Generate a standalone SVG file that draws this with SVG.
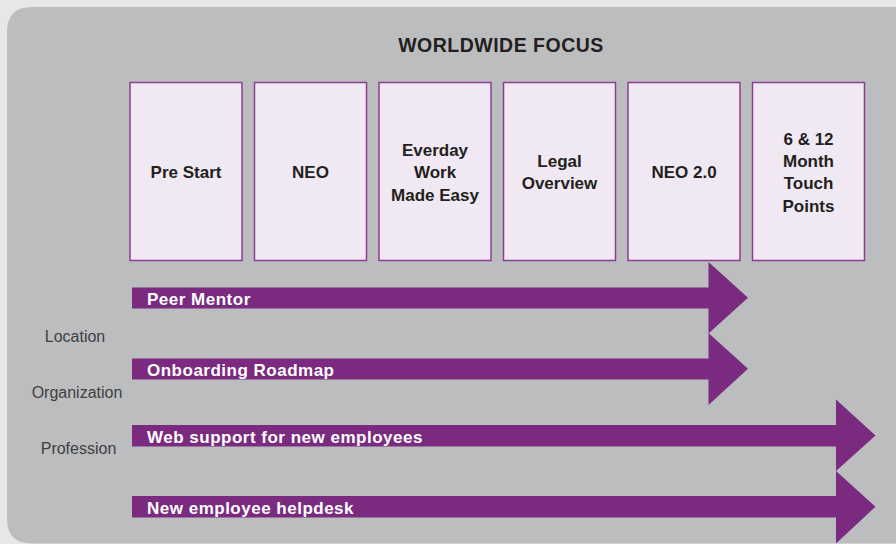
<svg xmlns="http://www.w3.org/2000/svg" width="896" height="544" viewBox="0 0 896 544">
<style>
.box{fill:#f0e8f2;stroke:#8e3d96;stroke-width:1.5}
.bt{font-family:"Liberation Sans",Arial,sans-serif;font-weight:bold;font-size:17px;fill:#231f20;text-anchor:middle}
.arr{fill:#7a2b80}
.at{font-family:"Liberation Sans",Arial,sans-serif;font-weight:bold;font-size:17px;fill:#ffffff;letter-spacing:0.5px}
.side{font-family:"Liberation Sans",Arial,sans-serif;font-size:16px;fill:#414042;text-anchor:middle}
</style>
<rect x="0" y="0" width="896" height="544" fill="#e6e7e8"/>
<path d="M32 7 H900 V543.5 H32 Q7 543.5 7 518.5 V32 Q7 7 32 7 Z" fill="#bcbdbf"/>
<text x="501" y="52" font-family="Liberation Sans,Arial,sans-serif" font-weight="bold" font-size="19.5" fill="#231f20" text-anchor="middle" letter-spacing="0.5">WORLDWIDE FOCUS</text>
<g id="node-prestart"><rect class="box" x="130" y="82.5" width="112" height="178"/><text class="bt" x="186" y="178">Pre Start</text></g>
<g id="node-neo"><rect class="box" x="254.5" y="82.5" width="112" height="178"/><text class="bt" x="310.5" y="178">NEO</text></g>
<g id="node-everyday"><rect class="box" x="379" y="82.5" width="112" height="178"/><text class="bt" x="435" y="155.5">Everday</text><text class="bt" x="435" y="178">Work</text><text class="bt" x="435" y="201">Made Easy</text></g>
<g id="node-legal"><rect class="box" x="503.5" y="82.5" width="112" height="178"/><text class="bt" x="559.5" y="167">Legal</text><text class="bt" x="559.5" y="189">Overview</text></g>
<g id="node-neo2"><rect class="box" x="628" y="82.5" width="112" height="178"/><text class="bt" x="684" y="178">NEO 2.0</text></g>
<g id="node-touch"><rect class="box" x="752.5" y="82.5" width="112" height="178"/><text class="bt" x="808.5" y="144.5">6 &amp; 12</text><text class="bt" x="808.5" y="167">Month</text><text class="bt" x="808.5" y="189">Touch</text><text class="bt" x="808.5" y="212">Points</text></g>
<g id="side-labels">
<text class="side" x="75" y="342">Location</text>
<text class="side" x="77" y="398">Organization</text>
<text class="side" x="78.5" y="454">Profession</text>
</g>
<g id="connectors">
<g id="arrow-peer"><path class="arr" d="M132 287.5 H708.5 V262 L748 297.8 L708.5 333.5 V308.5 H132 Z"/><text class="at" x="147" y="305">Peer Mentor</text></g>
<g id="arrow-roadmap"><path class="arr" d="M132 358.5 H708.5 V333 L748 368.8 L708.5 405 V379.5 H132 Z"/><text class="at" x="147" y="376">Onboarding Roadmap</text></g>
<g id="arrow-web"><path class="arr" d="M132 425 H836 V399.5 L875.5 435.5 L836 471 V446.5 H132 Z"/><text class="at" x="147" y="442.5">Web support for new employees</text></g>
<g id="arrow-help"><path class="arr" d="M132 496 H836 V471 L875.5 506.7 L836 543.5 V517.5 H132 Z"/><text class="at" x="147" y="513.5">New employee helpdesk</text></g>
</g>
</svg>
